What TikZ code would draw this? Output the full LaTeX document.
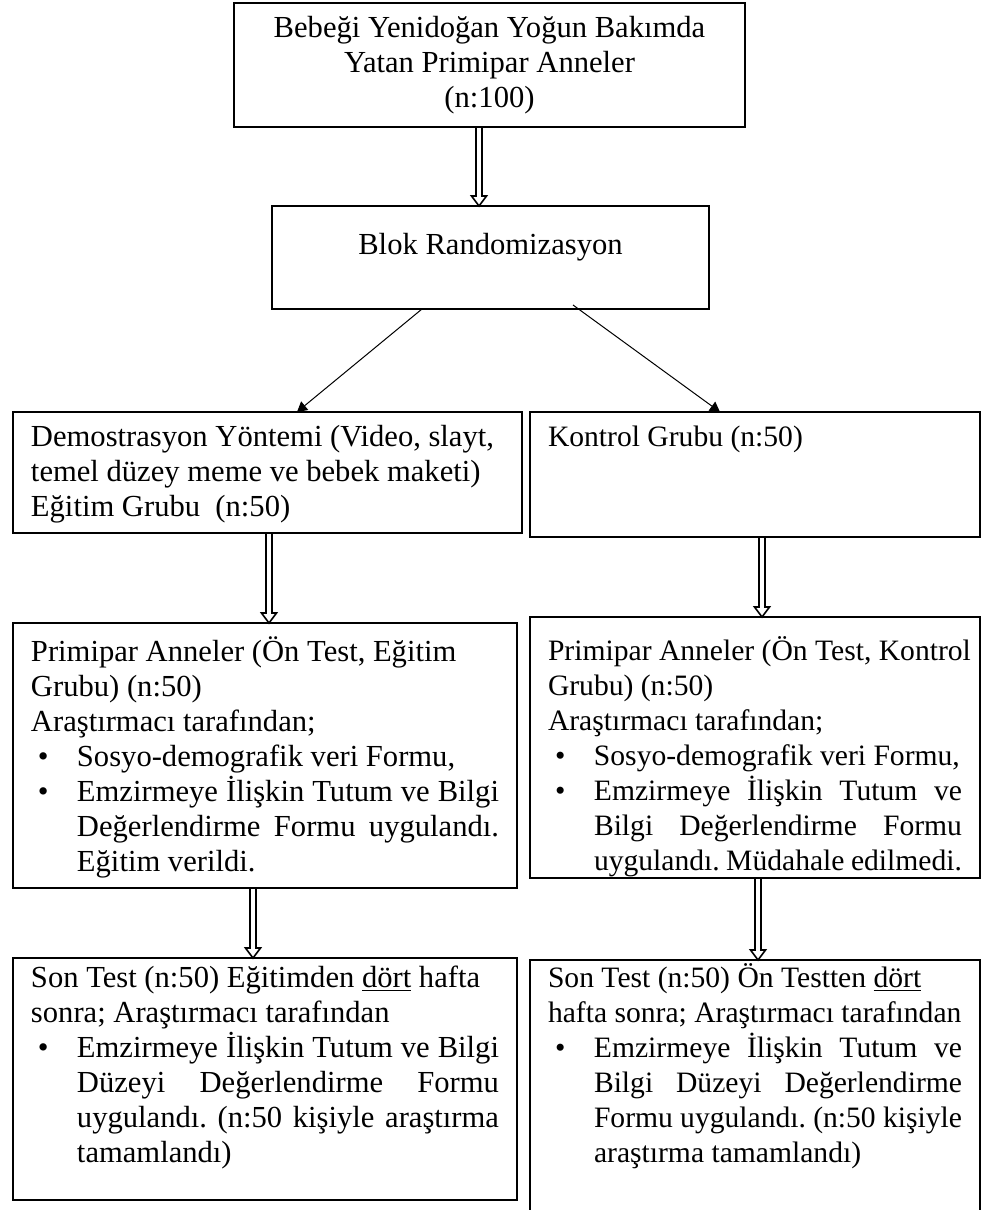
\documentclass[tikz,border=0pt]{standalone}
\usepackage{fontspec}
\setmainfont{Liberation Serif}
\usepackage{tikz}
\usetikzlibrary{calc, arrows.meta}
\frenchspacing
\hyphenpenalty=10000
\exhyphenpenalty=10000
\tolerance=10000
\newlength{\bulletind}
\setlength{\bulletind}{23pt}
\newcommand{\bitem}{\par\noindent\hangindent=\bulletind\hangafter=1\hbox to \bulletind{\hspace{3.5pt}\textbullet\hfil}}
\newcommand{\dblarrow}[2]{%
    \draw[hollowarrow] ($(#1)+(-3,0)$) -- ($(#1 |- #2)+(-3,-10)$) -- ($(#1 |- #2)+(-7.5,-10)$)
        -- (#1 |- #2) -- ($(#1 |- #2)+(7.5,-10)$) -- ($(#1 |- #2)+(3,-10)$) -- ($(#1)+(3,0)$) -- cycle;}

\begin{document}
\begin{tikzpicture}[
        x=0.5pt, y=-0.5pt,
        box/.style={draw, line width=1pt, anchor=north west, outer sep=0pt, inner xsep=9pt, inner ysep=5pt,
            align=justify, font={\fontsize{15.3}{17.5}\selectfont}},
        rbox/.style={box, font={\fontsize{14.8}{17.5}\selectfont}},
        hollowarrow/.style={line width=0.8pt, line join=miter},
        thinarrow/.style={line width=0.5pt, -{Triangle[length=5pt, width=5.5pt]}},
    ]

    \useasboundingbox (0,0) rectangle (992,1210);

    \node[box, align=flush center, text width=237.5pt, minimum height=62pt] (b1) at (234,3)
        {Bebeği Yenidoğan Yoğun Bakımda\\ Yatan Primipar Anneler\\ (n:100)};
    \node[box, align=flush center, text width=200.5pt, text height=19pt, text depth=22.5pt] (b2) at (272,206)
        {Blok Randomizasyon};

    \node[box, text width=236.5pt, text height=12pt, text depth=38.5pt] (b3) at (13,412)
        {\mbox{Demostrasyon Yöntemi (Video, slayt,}\\ temel düzey meme ve bebek maketi)\\ Eğitim Grubu\ \ (n:50)\par};
    \node[rbox, text width=207pt, text height=12pt, text depth=40.5pt] (b4) at (530,412)
        {Kontrol Grubu (n:50)};

    \node[box, text width=234pt, text height=14pt, text depth=108.5pt] (b5) at (13,623)
        {Primipar Anneler (Ön Test, Eğitim\\ Grubu) (n:50)\\ Araştırmacı tarafından;
        \bitem Sosyo-demografik veri Formu,
        \bitem Emzirmeye İlişkin Tutum ve Bilgi \linebreak Değerlendirme Formu uygulandı. \linebreak Eğitim verildi.\par};
    \node[rbox, text width=207pt, text height=16.5pt, text depth=104pt] (b6) at (530,617)
        {\mbox{Primipar Anneler (Ön Test, Kontrol}\\ Grubu) (n:50)\\ Araştırmacı tarafından;
        \bitem Sosyo-demografik veri Formu,
        \bitem Emzirmeye İlişkin Tutum ve \linebreak Bilgi Değerlendirme Formu \linebreak uygulandı. Müdahale edilmedi.\par};

    \node[box, text width=234pt, text height=9.5pt, text depth=101.5pt] (b7) at (13,958)
        {\mbox{Son Test (n:50) Eğitimden \underline{dört} hafta}\\ sonra; Araştırmacı tarafından
        \bitem Emzirmeye İlişkin Tutum ve Bilgi \linebreak Düzeyi Değerlendirme Formu \linebreak uygulandı. (n:50 kişiyle araştırma \linebreak tamamlandı)\par};
    \node[rbox, text width=207pt, text height=8.5pt, text depth=113pt] (b8) at (530,960)
        {Son Test (n:50) Ön Testten \underline{dört}\\ \mbox{hafta sonra; Araştırmacı tarafından}
        \bitem Emzirmeye İlişkin Tutum ve \linebreak Bilgi Düzeyi Değerlendirme \linebreak Formu uygulandı. (n:50 kişiyle \linebreak araştırma tamamlandı)\par};

    \coordinate (a1) at ($(b1.south)+(-10.5,0)$);
    \coordinate (a2) at ($(b3.south)+(1.5,0)$);
    \coordinate (a3) at ($(b4.south)+(7,0)$);
    \coordinate (a4) at ($(b5.south)+(-12,0)$);
    \coordinate (a5) at ($(b6.south)+(3,0)$);

    \dblarrow{a1}{b2.north}
    \dblarrow{a2}{b5.north}
    \dblarrow{a3}{b6.north}
    \dblarrow{a4}{b7.north}
    \dblarrow{a5}{b8.north}

    \draw[thinarrow] ($(b2.south)+(-68.5,0)$) -- ($(b3.north west)+(284,0)$);
    \draw[thinarrow] ($(b2.south)+(82.5,-4)$) -- ($(b4.north west)+(190,0)$);

\end{tikzpicture}
\end{document}
